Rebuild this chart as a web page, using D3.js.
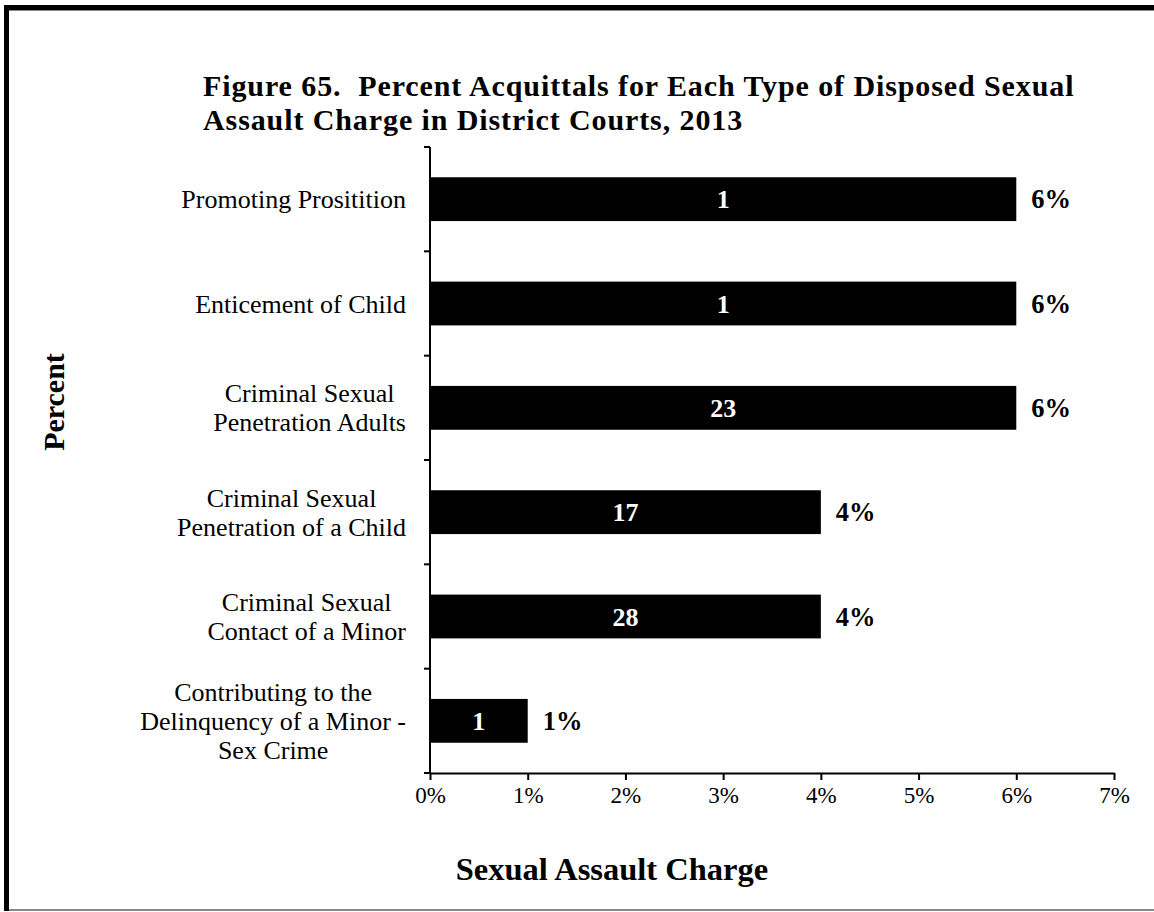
<!DOCTYPE html>
<html><head><meta charset="utf-8">
<script src="https://cdn.jsdelivr.net/npm/d3@7"></script>
<style>
html,body{margin:0;padding:0;background:#fff;}
svg{display:block;font-family:"Liberation Serif","Times New Roman",serif;}
</style></head>
<body>
<svg id="c" width="1154" height="912"></svg>
<script>
const categories = [
  ["Promoting Prositition"],
  ["Enticement of Child"],
  ["Criminal Sexual", "Penetration Adults"],
  ["Criminal Sexual", "Penetration of a Child"],
  ["Criminal Sexual", "Contact of a Minor"],
  ["Contributing to the", "Delinquency of a Minor -", "Sex Crime"]
];
const percents = [6, 6, 6, 4, 4, 1];
const counts = [1, 1, 23, 17, 28, 1];
const xTicks = [0, 1, 2, 3, 4, 5, 6, 7];
const titleLines = ["Figure 65.  Percent Acquittals for Each Type of Disposed Sexual", "Assault Charge in District Courts, 2013"];

(function(){
const svg = d3.select("#c");
// frame
svg.append("rect").attr("x",0).attr("y",0).attr("width",1154).attr("height",912).attr("fill","#fff");
svg.append("rect").attr("x",4).attr("y",5).attr("width",1150).attr("height",5).attr("fill","#000");
svg.append("rect").attr("x",4).attr("y",10).attr("width",1150).attr("height",1).attr("fill","#888");
svg.append("rect").attr("x",4).attr("y",5).attr("width",5).attr("height",906).attr("fill","#000");
svg.append("rect").attr("x",9).attr("y",909).attr("width",1145).attr("height",2).attr("fill","#888");

const pl = 430, pr = 1114, pt = 147, pb = 773;
const x = d3.scaleLinear().domain([0, 7]).range([pl, pr]);
const y = d3.scaleBand().domain(d3.range(categories.length)).range([pt, pb]).paddingInner(0.58).paddingOuter(0.29);

// title
svg.append("g").selectAll("text").data(titleLines).join("text")
  .attr("x", 203).attr("y", (d,i)=>96 + i*34)
  .attr("font-size", 30).attr("font-weight","bold").attr("fill","#000")
  .attr("letter-spacing", 0.9)
  .style("white-space","pre")
  .text(d=>d);

// bars
svg.append("g").selectAll("rect").data(percents).join("rect")
  .attr("x", x(0)).attr("y", (d,i)=>y(i))
  .attr("width", d=>x(d)-x(0)).attr("height", y.bandwidth()).attr("fill","#000");

// inner labels
svg.append("g").selectAll("text").data(counts).join("text")
  .attr("x", (d,i)=> (x(0)+x(percents[i]))/2)
  .attr("y", (d,i)=> y(i)+y.bandwidth()/2)
  .attr("dy","0.35em").attr("text-anchor","middle")
  .attr("font-size",26).attr("font-weight","bold").attr("fill","#fff")
  .text(d=>d);

// outer labels
svg.append("g").selectAll("text").data(percents).join("text")
  .attr("x", d=> x(d)+15)
  .attr("y", (d,i)=> y(i)+y.bandwidth()/2)
  .attr("dy","0.35em")
  .attr("font-size",26.5).attr("font-weight","bold").attr("fill","#000")
  .text(d=>d+"%");

// x axis
const xAxis = svg.append("g").attr("transform",`translate(0,${pb})`)
  .call(d3.axisBottom(x).tickValues(xTicks).tickFormat(d=>d+"%").tickSize(7).tickSizeOuter(0).tickPadding(7));
xAxis.select(".domain").attr("stroke","#000").attr("stroke-width",2);
xAxis.selectAll(".tick line").attr("stroke","#000").attr("stroke-width",2);
xAxis.selectAll(".tick text").attr("font-size",23).attr("font-family","Liberation Serif").attr("fill","#000");

// y axis with boundary ticks
const yg = svg.append("g");
yg.append("line").attr("x1",pl).attr("x2",pl).attr("y1",pt).attr("y2",pb).attr("stroke","#000").attr("stroke-width",2);
const boundaries = d3.range(categories.length+1).map(i=> pt + i*(pb-pt)/categories.length);
yg.selectAll("line.t").data(boundaries).join("line").attr("class","t")
  .attr("x1",pl-6).attr("x2",pl).attr("y1",d=>d).attr("y2",d=>d).attr("stroke","#000").attr("stroke-width",2);

// category labels: block right-aligned at 406, lines centred within block
const lh = 29, labelRight = 406;
categories.forEach((lines,i)=>{
  const cy = y(i)+y.bandwidth()/2;
  const t = svg.append("text").attr("text-anchor","middle").attr("font-size",26).attr("fill","#000");
  const spans = lines.map((ln,j)=> t.append("tspan")
     .attr("y", cy + (j - (lines.length-1)/2)*lh).attr("dy","0.35em").text(ln));
  const maxW = d3.max(spans, s=> s.node().getComputedTextLength());
  spans.forEach(s=> s.attr("x", labelRight - maxW/2));
});

// axis titles
svg.append("text").attr("x",612).attr("y",880).attr("text-anchor","middle")
  .attr("font-size",32.5).attr("font-weight","bold").text("Sexual Assault Charge");
svg.append("text").attr("transform","translate(64,402) rotate(-90)").attr("text-anchor","middle")
  .attr("font-size",30).attr("font-weight","bold").text("Percent");
})();
</script>
</body></html>
